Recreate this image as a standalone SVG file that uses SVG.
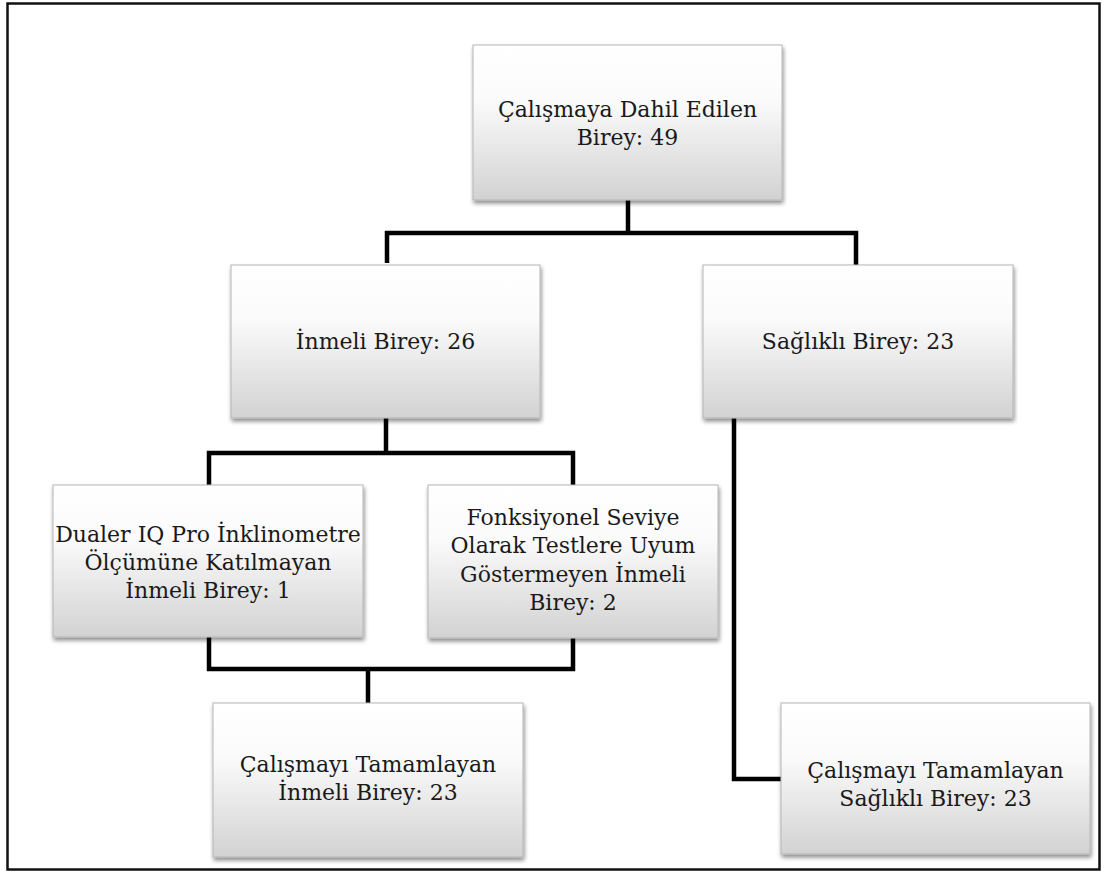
<svg xmlns="http://www.w3.org/2000/svg" width="1105" height="874" viewBox="0 0 1105 874">
<style>
.box{fill:url(#g);stroke:#b5b5b5;stroke-width:1;filter:url(#sh)}
.t{font-family:"DejaVu Serif",serif;font-size:22px;fill:#1a1a1a;text-anchor:middle}
.c{fill:none;stroke:#000;stroke-width:4.5;stroke-linejoin:miter}
</style>
<defs>
<linearGradient id="g" x1="0" y1="0" x2="0" y2="1">
<stop offset="0" stop-color="#ffffff"/>
<stop offset="0.35" stop-color="#fbfbfb"/>
<stop offset="1" stop-color="#d2d2d2"/>
</linearGradient>
<filter id="sh" x="-5%" y="-5%" width="112%" height="120%">
<feGaussianBlur in="SourceAlpha" stdDeviation="2"/>
<feOffset dx="1" dy="3" result="b"/>
<feComponentTransfer><feFuncA type="linear" slope="0.45"/></feComponentTransfer>
<feMerge><feMergeNode/><feMergeNode in="SourceGraphic"/></feMerge>
</filter>
</defs>
<rect x="0" y="0" width="1105" height="874" fill="#fff"/>
<rect x="7.5" y="3.5" width="1092" height="866" fill="none" stroke="#111" stroke-width="2.5"/>
<g id="connectors">
<path class="c" d="M628 200 V233 M387 263 V233 H856 V265"/>
<path class="c" d="M386 418 V453 M209 485 V453 H573 V485"/>
<path class="c" d="M209 637 V669 H573 V637 M368 669 V703"/>
<path class="c" d="M734 418 V779 H781"/>
</g>
<g id="n1"><rect class="box" x="473" y="45" width="309" height="155"/>
<text class="t" x="627.5" y="117">Çalışmaya Dahil Edilen</text><text class="t" x="627.5" y="145">Birey: 49</text></g>
<g id="n2"><rect class="box" x="231" y="265" width="309" height="153"/>
<text class="t" x="385.5" y="349">İnmeli Birey: 26</text></g>
<g id="n3"><rect class="box" x="703" y="265" width="310" height="153"/>
<text class="t" x="858" y="349">Sağlıklı Birey: 23</text></g>
<g id="n4"><rect class="box" x="53" y="485" width="310" height="152"/>
<text class="t" x="208" y="542">Dualer IQ Pro İnklinometre</text><text class="t" x="208" y="570">Ölçümüne Katılmayan</text><text class="t" x="208" y="598">İnmeli Birey: 1</text></g>
<g id="n5"><rect class="box" x="428" y="485" width="290" height="153"/>
<text class="t" x="573" y="525">Fonksiyonel Seviye</text><text class="t" x="573" y="553">Olarak Testlere Uyum</text><text class="t" x="573" y="582">Göstermeyen İnmeli</text><text class="t" x="573" y="610">Birey: 2</text></g>
<g id="n6"><rect class="box" x="213" y="703" width="310" height="154"/>
<text class="t" x="368" y="772">Çalışmayı Tamamlayan</text><text class="t" x="368" y="800">İnmeli Birey: 23</text></g>
<g id="n7"><rect class="box" x="781" y="703" width="309" height="151"/>
<text class="t" x="935.5" y="778">Çalışmayı Tamamlayan</text><text class="t" x="935.5" y="806">Sağlıklı Birey: 23</text></g>
</svg>
